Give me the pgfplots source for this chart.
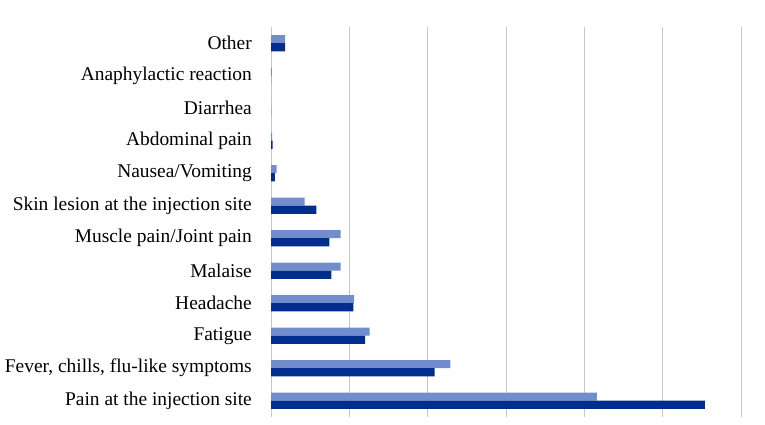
\documentclass[border=0pt]{standalone}
\usepackage{pgfplots}
\pgfplotsset{compat=1.18}
\usepackage{fontspec}
\setmainfont{Liberation Serif}
\definecolor{lightbar}{RGB}{114,141,206}
\definecolor{darkbar}{RGB}{0,45,142}
\begin{document}
\begin{tikzpicture}
\useasboundingbox (0,0) rectangle (765bp,425bp);
\begin{axis}[
  at={(271bp,8bp)}, anchor=south west,
  scale only axis, width=470bp, height=390bp,
  xbar, bar width=0.25,
  xmin=0, xmax=60, xtick={0,10,...,60}, xticklabels={},
  ymin=-0.5, ymax=11.5, ytick={0,...,11},
  yticklabels={Pain at the injection site, {Fever, chills, flu-like symptoms}, Fatigue, Headache, Malaise, Muscle pain/Joint pain, Skin lesion at the injection site, Nausea/Vomiting, Abdominal pain, Diarrhea, Anaphylactic reaction, Other},
  major tick length=0,
  axis line style={draw=none},
  xmajorgrids, grid style={black!22, line width=1bp},
  yticklabel style={font=\fontsize{19.5}{23}\selectfont, inner sep=0pt, xshift=-19bp},
]
\addplot[fill=lightbar, draw=none, bar shift=0.125] coordinates {
(41.6,0) (22.9,1) (12.6,2) (10.6,3) (8.9,4) (8.9,5) (4.3,6) (0.73,7) (0.15,8) (0,9) (0.1,10) (1.8,11)};
\addplot[fill=darkbar, draw=none, bar shift=-0.125] coordinates {
(55.4,0) (20.9,1) (12.0,2) (10.5,3) (7.7,4) (7.45,5) (5.8,6) (0.5,7) (0.2,8) (0,9) (0,10) (1.8,11)};
\end{axis}
\end{tikzpicture}
\end{document}
